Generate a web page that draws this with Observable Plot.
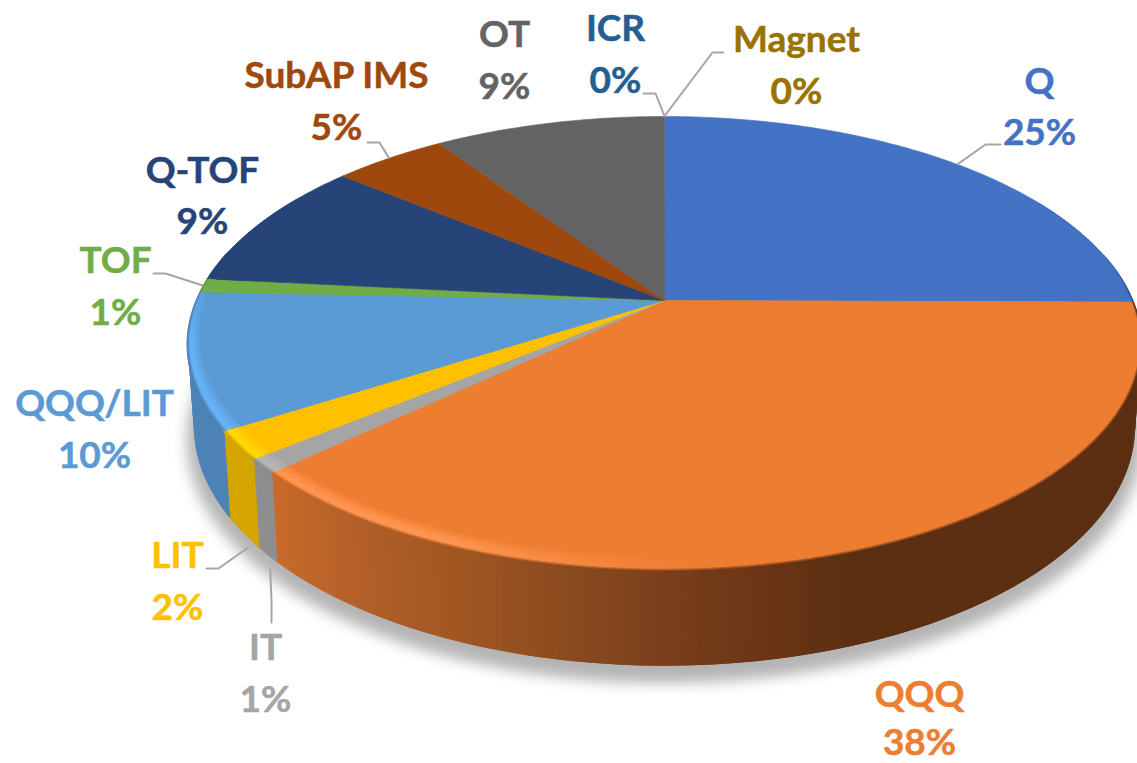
<!DOCTYPE html>
<html><head><meta charset="utf-8">
<style>html,body{margin:0;padding:0;background:#fff}svg{display:block}</style>
<script src="https://cdn.jsdelivr.net/npm/d3@7"></script>
<script src="https://cdn.jsdelivr.net/npm/@observablehq/plot@0.6"></script>
</head><body><div id="chart"></div>
<script>
// Data (clockwise from 12 o'clock)
const categories = ["Q","QQQ","IT","LIT","QQQ/LIT","TOF","Q-TOF","SubAP IMS","OT","ICR","Magnet"];
const shares     = [25.1,37.9,1,2,9.6,1,9.4,4.6,9.4,0,0];
const percentLabels = ["25%","38%","1%","2%","10%","1%","9%","5%","9%","0%","0%"];
const colors = ["#4472C4","#ED7D31","#A5A5A5","#FFC000","#5B9BD5","#70AD47","#264478","#9E480E","#636363","#255E91","#997300"];

// Styling and layout
const wallColors = {Q:"#2B4A80",IT:"#8E8E8E",LIT:"#D4A500","QQQ/LIT":"#4E83B8",TOF:"#5A8E38"};
const highlights = {QQQ:"#FF9550",IT:"#B5B5B5",LIT:"#FFD800","QQQ/LIT":"#66B2F5",TOF:"#7CC04F",Q:"#4472C4"};
const orangeWall = d3.scaleLinear([270,370,450,600,750,850],["#C96A2B","#B05E28","#A25722","#84471E","#6E3617","#5C2F12"]).clamp(true);
const labelX = [1039,919,265,177,94,115,202,336,504,615,796];
const nameY  = [82,695,648,556,404,261,171,76,35,29,40];
const pctY   = [133,743,700,608,456,313,222,128,87,81,92];
const leaderPaths = {
  "Q":        {start:[1000,144], elbow:[985,144], at:"top"},
  "IT":       {start:[271,622],  elbow:[271,600], at:"base", gap:[3,14]},
  "LIT":      {start:[206,568],  elbow:[218,568], at:"base", gap:[5,14]},
  "TOF":      {start:[153,273],  elbow:[165,273], at:"top"},
  "SubAP IMS":{start:[367,142],  elbow:[379,142], at:"top"},
  "ICR":      {start:[643,93],   elbow:[655,93],  at:"top"},
  "Magnet":   {start:[723,52],   elbow:[712,52],  at:"top"}
};
const topPlane  = {cx:664,cy:300,A:468,B:219,k:0.19};
const basePlane = {cx:664,cy:380,A:462,B:231,k:0.19};

const project = (p,t,r=1)=>{const a=t*2*Math.PI/100,u=r*Math.sin(a),v=-r*Math.cos(a),w=1-p.k*v;return [p.cx+p.A*u/w,p.cy+p.B*v/w];};
let acc=0;
const slices = categories.map((name,i)=>{const s={name,start:acc,end:acc+shares[i],color:colors[i]};acc+=shares[i];return s;});
const sampled=(s,step)=>{const n=Math.max(1,Math.ceil((s.end-s.start)/step));return d3.range(n+1).map(j=>s.start+(s.end-s.start)*j/n);};
const toRows=(id,pts,fill)=>pts.map(([x,y])=>({id,x,y,fill}));

// top faces
const topRows=slices.filter(s=>s.end>s.start).flatMap(s=>toRows(s.name,[[topPlane.cx,topPlane.cy],...sampled(s,0.25).map(t=>project(topPlane,t))],s.color));

// walls and bevel rim
const wallColor=(s,x)=>s.name==="QQQ"?orangeWall(x):(wallColors[s.name]||s.color);
const clamp=(x)=>Math.max(0,Math.min(1,x));
const wallRows=[],rimRows=[];
let fid=0;
const bandStops=[0,0.25,0.5,0.72,0.86,0.93,1,1.1];
for(const s of slices){
  if(s.end<=s.start) continue;
  const ts=sampled(s,0.2);
  for(let j=0;j<ts.length-1;j++){
    const t0=ts[j],t1=ts[j+1],tm=(t0+t1)/2,over=t1+(t1-t0);
    const a=tm*2*Math.PI/100,v=-Math.cos(a);
    if(v<-0.5) continue;
    const pm=project(topPlane,tm);
    const wc=wallColor(s,pm[0]);
    wallRows.push(...toRows("w"+(fid++),[project(topPlane,t0),project(topPlane,over),project(basePlane,over),project(basePlane,t0)],wc));
    const fade=clamp((v+0.22)/0.22);
    if(fade<=0) continue;
    const hs=clamp((700-pm[0])/260)*clamp((v+0.1)/0.3);
    const hl=d3.interpolateRgb(s.color,highlights[s.name]||s.color)(hs);
    const outer=d3.interpolateRgb(s.color,wc)(fade);
    const stops=[d3.interpolateRgb(s.color,hl)(0.35),d3.interpolateRgb(s.color,hl)(0.75),hl,hl,d3.interpolateRgb(hl,outer)(0.4),d3.interpolateRgb(hl,outer)(0.75),outer];
    const band=0.018+0.027*Math.max(v,0);
    const rad=bandStops.map(b=>1-band+band*b);
    for(let k=0;k<rad.length-1;k++){
      rimRows.push(...toRows("r"+(fid++),[project(topPlane,t0,rad[k]),project(topPlane,over,rad[k]),project(topPlane,over,rad[k+1]),project(topPlane,t0,rad[k+1])],stops[k]));
    }
  }
}
// soft shadow under the pie
const shadowRows=d3.range(0,100,0.5).map(t=>{const [x,y]=project(basePlane,t,1.015);return {id:"shadow",x,y:y+12,fill:"#b4b4b4"};});

// leaders
const leaderRows=slices.flatMap(s=>{const l=leaderPaths[s.name];if(!l)return [];
  const [ex,ey]=project(l.at==="base"?basePlane:topPlane,(s.start+s.end)/2,1.002);
  const [dx,dy]=l.gap||[0,0];
  return [l.start,l.elbow,[ex+dx,ey+dy]].map(([x,y])=>({id:s.name,x,y}));});

const labels=categories.flatMap((name,i)=>[{text:name,x:labelX[i],y:nameY[i],fill:colors[i]},{text:percentLabels[i],x:labelX[i],y:pctY[i],fill:colors[i]}]);

const poly=(rows,extra={})=>Plot.line(rows,{x:"x",y:"y",z:"id",fill:"fill",stroke:"fill",strokeWidth:0.6,curve:"linear-closed",...extra});

const chart=Plot.plot({
  width:1137,height:763,margin:0,
  x:{domain:[0,1137],range:[0,1137],axis:null},
  y:{domain:[0,763],range:[0,763],axis:null},
  color:{type:"identity"},
  marks:[
    poly(shadowRows,{imageFilter:"blur(7px)",strokeWidth:0}),
    poly(wallRows,{stroke:null,strokeWidth:0}),
    poly(topRows),
    poly(rimRows,{stroke:null,strokeWidth:0}),
    Plot.line(leaderRows,{x:"x",y:"y",z:"id",stroke:"#A6A6A6",strokeWidth:2}),
    Plot.text(labels,{x:"x",y:"y",text:"text",fill:"fill",stroke:"fill",strokeWidth:0.5,fontSize:37,fontWeight:700,fontFamily:"Lato"})
  ]
});
document.getElementById("chart").appendChild(chart);
</script></body></html>
